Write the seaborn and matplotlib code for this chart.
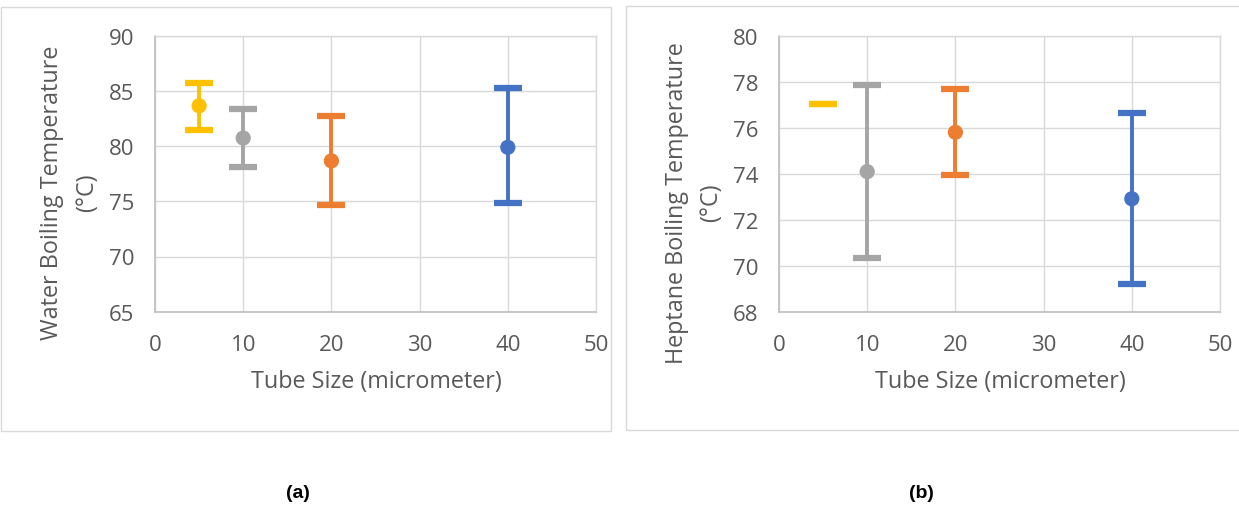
import matplotlib
matplotlib.use("Agg")
import matplotlib.pyplot as plt
import seaborn as sns
import pandas as pd
from matplotlib.patches import Rectangle

# ---- data ----
tube_size = [5, 10, 20, 40]
colors = ["#FFC000", "#A5A5A5", "#ED7D31", "#4472C4"]

water_mean = [83.65, 80.73, 78.66, 79.89]
water_upper = [85.73, 83.38, 82.72, 85.28]
water_lower = [81.50, 78.09, 74.63, 74.81]

heptane_mean = [77.04, 74.09, 75.80, 72.91]
heptane_upper = [77.04, 77.84, 77.69, 76.62]
heptane_lower = [77.04, 70.34, 73.94, 69.21]
heptane_marker = [False, True, True, True]

x_ticks = [0, 10, 20, 30, 40, 50]
water_ticks = [65, 70, 75, 80, 85, 90]
heptane_ticks = [68, 70, 72, 74, 76, 78, 80]

sns.set_theme(style="white")
plt.rcParams["font.family"] = ["Open Sans", "DejaVu Sans"]

W, H = 1239, 506
fig = plt.figure(figsize=(W / 100, H / 100), dpi=100)

def px_axes(l, t, r, b):
    return fig.add_axes([l / W, 1 - b / H, (r - l) / W, (b - t) / H])

# panel frames
for (l, t, r, b) in [(1, 8, 611, 432), (626, 7, 1245, 431)]:
    fig.patches.append(Rectangle((l / W, 1 - b / H), (r - l) / W, (b - t) / H,
                                 transform=fig.transFigure, fill=False,
                                 edgecolor="#D9D9D9", linewidth=1.0))

def draw(ax, mean, upper, lower, markers, yticks):
    df = pd.DataFrame({"x": tube_size, "y": mean, "c": colors, "m": markers})
    for i, row in df.iterrows():
        err = [[row.y - lower[i]], [upper[i] - row.y]]
        ax.errorbar([row.x], [row.y], yerr=err, fmt="none", ecolor=row.c,
                    elinewidth=2.8, capsize=10, capthick=4.5, zorder=3)
    dm = df[df.m]
    sns.scatterplot(data=dm, x="x", y="y", hue="c", palette=dict(zip(dm.c, dm.c)),
                    s=120, edgecolor="none", legend=False, ax=ax, zorder=4)
    ax.set_xlim(0, 50)
    ax.set_ylim(yticks[0], yticks[-1])
    ax.set_xticks(x_ticks)
    ax.set_yticks(yticks)
    ax.grid(True, color="#D9D9D9", linewidth=1.0)
    ax.set_axisbelow(True)
    for s in ["top", "right"]:
        ax.spines[s].set_color("#D9D9D9")
        ax.spines[s].set_linewidth(1.0)
    for s in ["left", "bottom"]:
        ax.spines[s].set_color("#BFBFBF")
        ax.spines[s].set_linewidth(1.2)
    ax.tick_params(axis="both", length=0, labelsize=16, labelcolor="#595959")
    ax.tick_params(axis="y", pad=15)
    ax.tick_params(axis="x", pad=16)
    ax.set_xlabel("")
    ax.set_ylabel("")

ax1 = px_axes(155, 36.7, 596, 312.7)
draw(ax1, water_mean, water_upper, water_lower, [True] * 4, water_ticks)
ax2 = px_axes(779, 36.7, 1220, 312.7)
draw(ax2, heptane_mean, heptane_upper, heptane_lower, heptane_marker, heptane_ticks)

lab = dict(fontsize=16.8, color="#595959", ha="center", va="center")
fig.text(376 / W, 1 - 382 / H, "Tube Size (micrometer)", **lab)
fig.text(1000 / W, 1 - 382 / H, "Tube Size (micrometer)", **lab)
fig.text(52 / W, 1 - 193 / H, "Water Boiling Temperature", rotation=90, **lab)
fig.text(87 / W, 1 - 193 / H, "(°C)", rotation=90, **lab)
fig.text(677 / W, 1 - 203 / H, "Heptane Boiling Temperature", rotation=90, **lab)
fig.text(711 / W, 1 - 203 / H, "(°C)", rotation=90, **lab)

bold = dict(fontsize=14, color="black", ha="center", va="center", fontweight="bold",
            family=["Liberation Sans", "DejaVu Sans"])
fig.text(298 / W, 1 - 494 / H, "(a)", **bold)
fig.text(921 / W, 1 - 494 / H, "(b)", **bold)

fig.savefig("out.png", dpi=100, facecolor="white")
